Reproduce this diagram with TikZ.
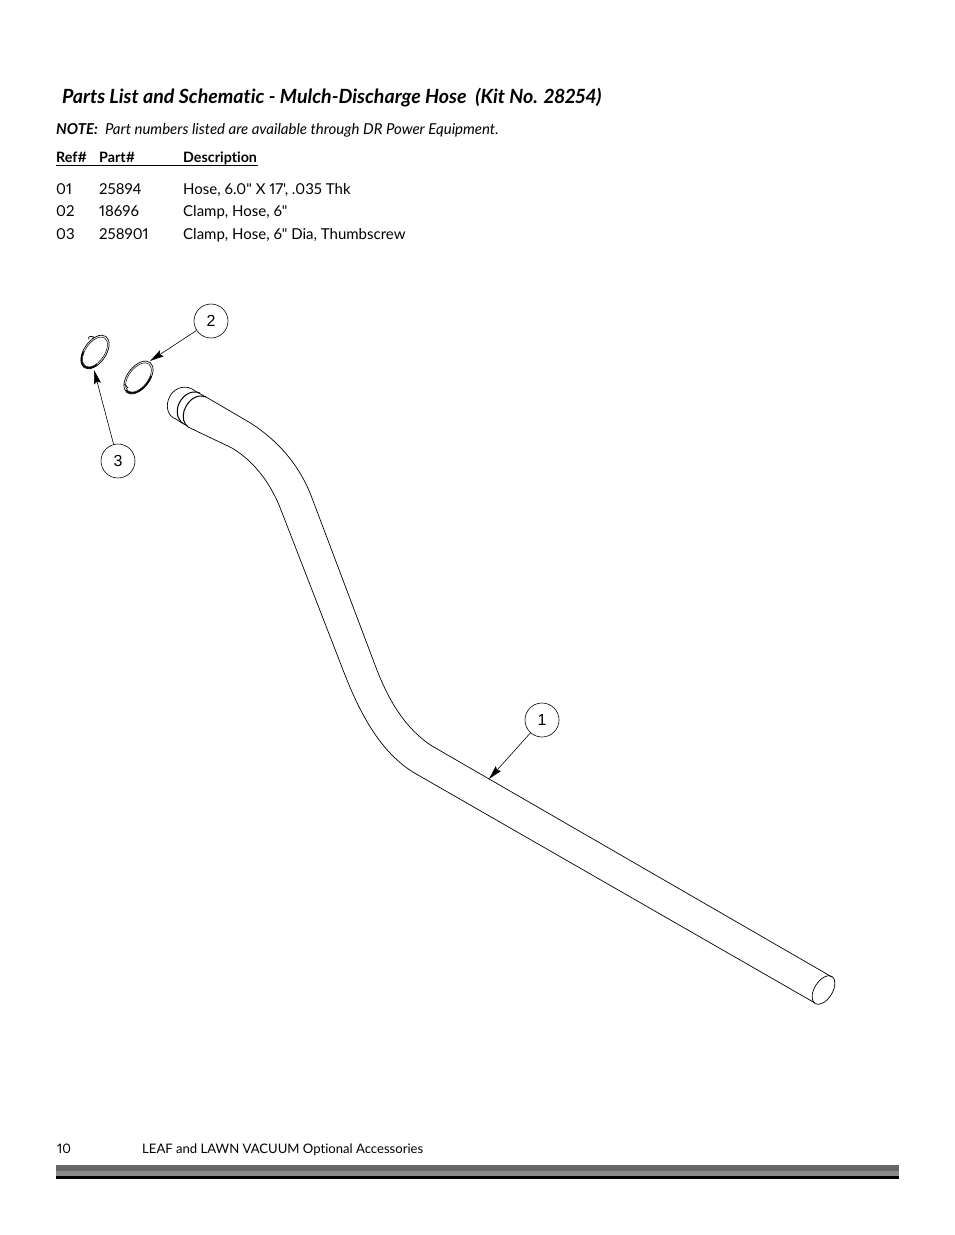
\documentclass[tikz,border=0pt]{standalone}
\usepackage{fontspec}
\setmainfont[Ligatures={TeXOff,CommonOff},Numbers=Proportional]{Lato}
\newfontfamily\balloonfont{Liberation Sans}
\usetikzlibrary{arrows.meta}
\definecolor{bardark}{HTML}{666666}
\definecolor{barlight}{HTML}{8A8A8A}
\tikzset{
	rowtext/.style={anchor=base west,inner sep=0pt,font=\fontsize{15}{17}\selectfont},
	balloon/.style={draw,circle,minimum size=34pt,inner sep=0pt,line width=0.6pt,font=\balloonfont\fontsize{16}{18}\selectfont},
	leader/.style={line width=0.6pt,-{Stealth[length=14pt,width=7pt,inset=2pt]}},
	hoseline/.style={line width=0.7pt,line join=round}
}
\begin{document}
\begin{tikzpicture}[x=1pt,y=-1pt]
	\useasboundingbox (0,0) rectangle (954,1235);
	
	%%heading
	\node[anchor=base west,inner sep=0pt,font=\fontsize{19.6}{24}\selectfont\bfseries\itshape] (title) at (62,103) {Parts List and Schematic - Mulch-Discharge Hose\ \ (Kit No. 28254)};
	\node[rowtext,font=\fontsize{15}{17}\selectfont\itshape] (note) at (56,134) {\textbf{NOTE:}\ \ Part numbers listed are available through DR Power Equipment.};
	
	%%table
	\foreach \x / \t / \n in {56/Ref\#/ref,99/Part\#/part,183/Description/desc}
	{
		\node[rowtext,font=\fontsize{14.3}{17}\selectfont\bfseries] (\n) at (\x,162) {\t};
	}
	\coordinate (ruleL) at (56,165);
	\coordinate (ruleR) at (258,165);
	\draw[line width=1pt] (ruleL)--(ruleR);
	\foreach \y / \a / \b / \c in {194/01/25894/{Hose, 6.0" X 17', .035 Thk},216/02/18696/{Clamp, Hose, 6"},239/03/258901/{Clamp, Hose, 6" Dia, Thumbscrew}}
	{
		\node[rowtext] (ref\a) at (56,\y) {\a};
		\node[rowtext] (part\a) at (99,\y) {\b};
		\node[rowtext] (desc\a) at (183,\y) {\c};
	}
	
	%%hose
	\draw[hoseline] (206,397)--(248,421.5) .. controls (275,438) and (299,463) .. (312,498)
		--(372,657) .. controls (380,678) and (395,722) .. (432,746)--(832,977);
	\draw[hoseline] (188,427)--(232,448) .. controls (255,462) and (271,484) .. (281,510)
		--(338,657) .. controls (351,690.5) and (372,750) .. (418,775)--(815,1003);
	\draw[hoseline] (823.5,990) ellipse [x radius=16,y radius=9,rotate=58];
	
	%%collar
	\draw[hoseline] (206,397)--(195,391) .. controls (187,384) and (175,387) .. (170,396)
		.. controls (165,405) and (167,416) .. (176,419)--(182,423);
	\draw[hoseline,line width=1pt] (200,393) .. controls (190,389) and (181,397) .. (178,406)
		.. controls (176,414) and (178,422) .. (186,425);
	\draw[hoseline,line width=1pt] (206,397) .. controls (195,393) and (187,402) .. (184,411)
		.. controls (182,418) and (184,424) .. (188,427);
	
	%%clamps
	\foreach \x / \y / \r / \s / \e in {95/352/55/120/250,138.5/377.5/52/60/190}
	{
		\begin{scope}[shift={(\x,\y)},rotate=\r]
			\draw[line width=0.7pt] (0,0) ellipse [x radius=19,y radius=11];
			\draw[line width=0.5pt] (0,0) ellipse [x radius=17,y radius=9.5];
			\draw[line width=1.4pt] (\s:18 and 10.5) arc [start angle=\s,end angle=\e,x radius=18,y radius=10.5];
		\end{scope}
	}
	\draw[line width=0.6pt,fill=white] (89,339.5) .. controls (87,336) and (91,336) .. (94,337)--(92,339);
	\draw[line width=0.8pt] (124.5,384)--(128,388);
	
	%%balloons
	\node[balloon] (b1) at (542,720) {1};
	\node[balloon] (b2) at (211,321) {2};
	\node[balloon] (b3) at (118,461) {3};
	\coordinate (tip1) at (489,779);
	\coordinate (tip2) at (150,361);
	\coordinate (tip3) at (94,370);
	\draw[leader] (b1)--(tip1);
	\draw[leader] (b2)--(tip2);
	\draw[leader] (b3)--(tip3);
	
	%%footer
	\node[rowtext,font=\fontsize{13.1}{16}\selectfont] (page) at (57,1153) {10};
	\node[rowtext,font=\fontsize{13.1}{16}\selectfont] (foot) at (142,1153) {LEAF and LAWN VACUUM Optional Accessories};
	\fill[bardark] (56,1165) rectangle (899,1171);
	\fill[barlight] (56,1171) rectangle (899,1176);
	\fill[black] (56,1176) rectangle (899,1179);
\end{tikzpicture}
\end{document}
